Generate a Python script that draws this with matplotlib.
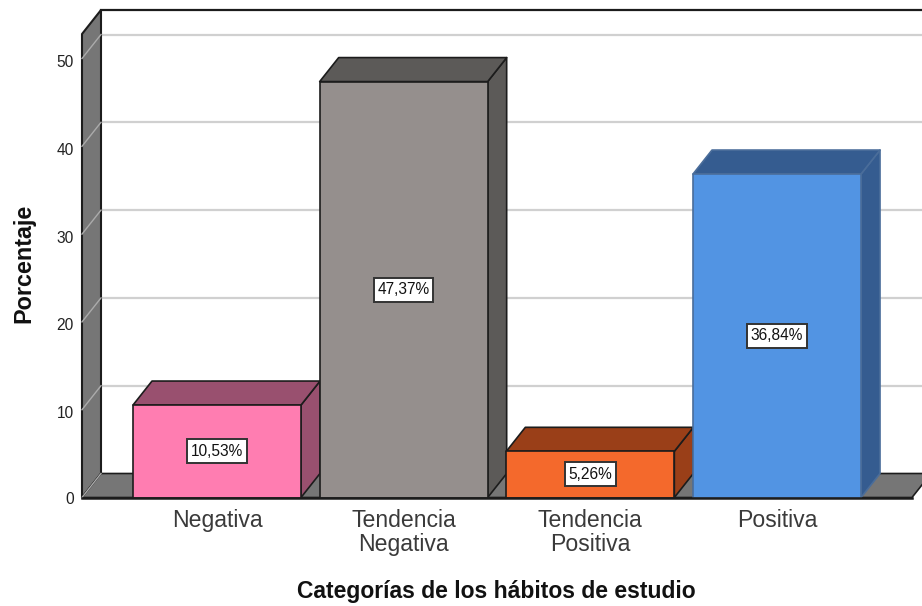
import matplotlib
matplotlib.use("Agg")
import matplotlib.pyplot as plt
from matplotlib.patches import Polygon, Rectangle
from matplotlib.transforms import ScaledTranslation

plt.rcParams['font.family'] = ['Liberation Sans', 'DejaVu Sans']

categories = ['Negativa', 'Tendencia\nNegativa', 'Tendencia\nPositiva', 'Positiva']
values = [10.53, 47.37, 5.26, 36.84]
value_labels = ['10,53%', '47,37%', '5,26%', '36,84%']
front_colors = ['#FF7DB1', '#958F8D', '#F4692C', '#5294E3']
top_colors = ['#99506F', '#5C5A58', '#9A3F18', '#355C90']
edge_colors = ['#1c1c1c', '#1c1c1c', '#1c1c1c', '#4A6D9A']
yticks = [0, 10, 20, 30, 40, 50]

W, H = 922, 606
fig = plt.figure(figsize=(W / 100, H / 100), dpi=100, facecolor='white')

# front plane of the 3D box, in pixels
L, R, B, T = 82, 912, 497.5, 34
ax = fig.add_axes([L / W, 1 - B / H, (R - L) / W, (B - T) / H])
PX_Y = 8.78
C0, PX_X = 217, 186.67
ax.set_ylim(0, (B - T) / PX_Y)
ax.set_xlim((L - C0) / PX_X, (R - C0) / PX_X)
DX, DY = 19 / PX_X, 24 / PX_Y      # depth offset, data units
BW = 168 / PX_X                    # bar width, data units
x0, x1 = ax.get_xlim()
ymax = ax.get_ylim()[1]
for s in ax.spines.values():
    s.set_visible(False)
ax.patch.set_visible(False)
EDGE = '#1c1c1c'

def poly(pts, fc, z, ec=EDGE, lw=1.2):
    ax.add_patch(Polygon(pts, closed=True, fc=fc, ec=ec, lw=lw, zorder=z,
                         clip_on=False, joinstyle='round'))

# back wall gridlines and left wall
WALL = '#767676'
GRID = '#D0D0D0'
poly([(x0, 0), (x0, ymax), (x0 + DX, ymax + DY), (x0 + DX, DY)], WALL, 1, lw=1.5)
poly([(x0, 0), (x1, 0), (x1 + DX, DY), (x0 + DX, DY)], WALL, 1)
for v in yticks:
    if v > 0:
        ax.plot([x0 + DX, x1 + DX], [v + DY, v + DY], color=GRID, lw=1.6, zorder=0.5,
                clip_on=False, solid_capstyle='butt')
    ax.plot([x0, x0 + DX], [v, v + DY], color='#ABABAB', lw=1.0, zorder=1.5, clip_on=False)
ax.plot([x0 + DX, x1 + DX], [ymax + DY] * 2, color=EDGE, lw=1.6, zorder=1, clip_on=False)
ax.plot([x0, x1], [0, 0], color=EDGE, lw=1.8, zorder=9, clip_on=False)

# 3D bars and their boxed labels
renderer = fig.canvas.get_renderer()
for i, v in enumerate(values):
    l, r = i - BW / 2, i + BW / 2
    ec = edge_colors[i]
    poly([(r, 0), (r, v), (r + DX, v + DY), (r + DX, DY)], top_colors[i], 3 + i, ec=ec)
    poly([(l, v), (r, v), (r + DX, v + DY), (l + DX, v + DY)], top_colors[i], 3 + i, ec=ec)
    poly([(l, 0), (r, 0), (r, v), (l, v)], front_colors[i], 3 + i, ec=ec)
    t = ax.text(i, v / 2, value_labels[i], ha='center', va='center', fontsize=11.2,
                color='#111111', zorder=11)
    box_w = (t.get_window_extent(renderer).width + 7) / PX_X
    box_h = 24 / PX_Y
    ax.add_patch(Rectangle((i - box_w / 2, v / 2 - box_h / 2), box_w, box_h, fc='white',
                           ec='#333333', lw=1.4, zorder=10))

ax.set_yticks(yticks)
ax.set_xticks(range(len(categories)))
ax.set_xticklabels(categories, fontsize=16.6, color='#3a3a3a', linespacing=1.02)
ax.tick_params(axis='y', length=0, pad=6, labelsize=11.2, labelcolor='#222222')
ax.tick_params(axis='x', length=0, pad=8.5)
shift = ScaledTranslation(0, -2.5 / 100, fig.dpi_scale_trans)
for lab in ax.get_yticklabels()[1:]:
    lab.set_transform(lab.get_transform() + shift)
ax.set_xlabel('Categorías de los hábitos de estudio', fontsize=16.5, fontweight='bold',
              color='#111111')
ax.set_ylabel('Porcentaje', fontsize=16.8, fontweight='bold', color='#111111')
ax.yaxis.set_label_coords((24 - L) / (R - L), 1 - (263.5 - T) / (B - T))
ax.xaxis.set_label_coords((496 - L) / (R - L), -(591.5 - B) / (B - T))
ax.xaxis.label.set_verticalalignment('center')
ax.yaxis.label.set_verticalalignment('center')

fig.savefig('out.png', dpi=100, facecolor='white')
